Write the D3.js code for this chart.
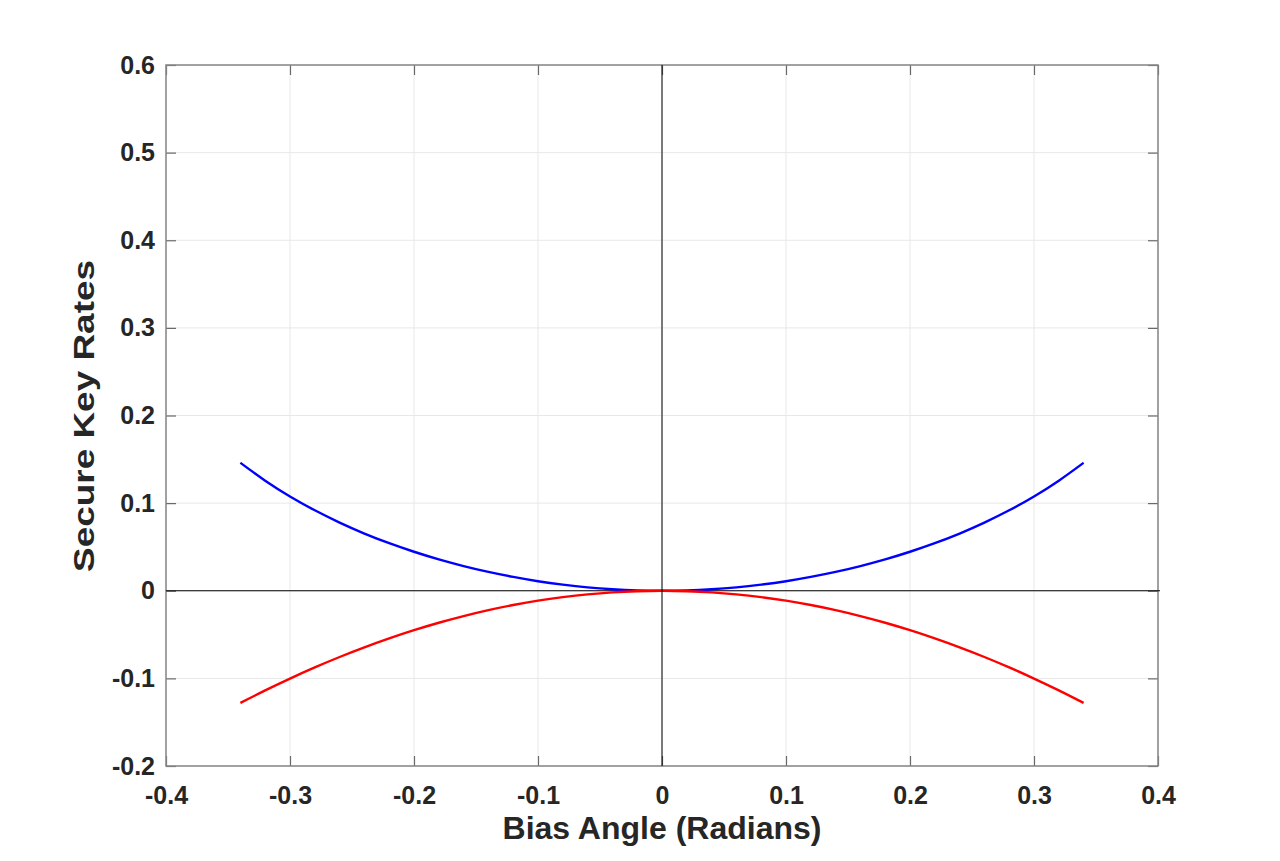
<!DOCTYPE html>
<html lang="en">
<head>
    <meta charset="UTF-8">
    <title>secure key rates</title>
    <script type="text/javascript" src="https://d3js.org/d3.v7.min.js"></script>
    <style>
        body { margin: 0; background: #fff; }
        text { font-family: "Liberation Sans", Arial, sans-serif; font-weight: bold; fill: #262626; }
    </style>
</head>
<body>
<svg class="chart"></svg>

<script type="text/javascript">

    const width = 1280;
    const height = 861;

    // bias angle samples (radians)
    const angles = [-0.34, -0.32, -0.30, -0.28, -0.26, -0.24, -0.22, -0.20, -0.18, -0.16, -0.14, -0.12,
        -0.10, -0.08, -0.06, -0.04, -0.02, 0, 0.02, 0.04, 0.06, 0.08, 0.10, 0.12, 0.14, 0.16, 0.18,
        0.20, 0.22, 0.24, 0.26, 0.28, 0.30, 0.32, 0.34];

    // upper curve (blue)
    const rateUpper = [0.1460, 0.1256, 0.1076, 0.0918, 0.0778, 0.0653, 0.0543, 0.0445, 0.0358, 0.0282,
        0.0215, 0.0158, 0.0109, 0.0070, 0.0039, 0.0017, 0.0004, 0, 0.0004, 0.0017, 0.0039, 0.0070,
        0.0109, 0.0158, 0.0215, 0.0282, 0.0358, 0.0445, 0.0543, 0.0653, 0.0778, 0.0918, 0.1076,
        0.1256, 0.1460];

    // lower curve (red)
    const rateLower = [-0.1280, -0.1137, -0.1002, -0.0875, -0.0756, -0.0646, -0.0544, -0.0450, -0.0365,
        -0.0289, -0.0221, -0.0163, -0.0113, -0.0073, -0.0041, -0.0018, -0.0005, 0, -0.0005, -0.0018,
        -0.0041, -0.0073, -0.0113, -0.0163, -0.0221, -0.0289, -0.0365, -0.0450, -0.0544, -0.0646,
        -0.0756, -0.0875, -0.1002, -0.1137, -0.1280];

    const xTicks = [-0.4, -0.3, -0.2, -0.1, 0, 0.1, 0.2, 0.3, 0.4];
    const yTicks = [-0.2, -0.1, 0, 0.1, 0.2, 0.3, 0.4, 0.5, 0.6];

    const plot = {left: 166, right: 1158, top: 65, bottom: 766};

    let svg = d3.select(".chart")
        .attr("width", width)
        .attr("height", height);

    let scaleX = d3.scaleLinear().domain([-0.4, 0.4]).range([plot.left, plot.right]);
    let scaleY = d3.scaleLinear().domain([-0.2, 0.6]).range([plot.bottom, plot.top]);

    // matlab style labels: plain hyphen, bare zero
    let fmt = d => d === 0 ? "0" : d3.format(".1f")(d).replace("\u2212", "-");

    // grid
    let grid = svg.append("g");
    grid.selectAll("line.gx").data(xTicks).enter().append("line")
        .attr("x1", d => scaleX(d)).attr("x2", d => scaleX(d))
        .attr("y1", plot.top).attr("y2", plot.bottom)
        .attr("stroke", "#e8e8e8").attr("stroke-width", 1);
    grid.selectAll("line.gy").data(yTicks).enter().append("line")
        .attr("y1", d => scaleY(d)).attr("y2", d => scaleY(d))
        .attr("x1", plot.left).attr("x2", plot.right)
        .attr("stroke", "#e8e8e8").attr("stroke-width", 1);

    // axes, ticks pointing inward on all four sides
    function styleAxis(g) {
        g.select(".domain").remove();
        g.selectAll(".tick line").attr("stroke", "#6a6a6a").attr("stroke-width", 1.2);
    }

    svg.append("g").attr("transform", `translate(0,${plot.bottom})`)
        .call(d3.axisBottom(scaleX).tickValues(xTicks).tickFormat(fmt).tickSizeInner(-10).tickPadding(20))
        .call(styleAxis)
        .selectAll("text").style("font-size", "25px").attr("fill", "#262626");
    svg.append("g").attr("transform", `translate(0,${plot.top})`)
        .call(d3.axisTop(scaleX).tickValues(xTicks).tickFormat("").tickSizeInner(-10))
        .call(styleAxis);
    svg.append("g").attr("transform", `translate(${plot.left},0)`)
        .call(d3.axisLeft(scaleY).tickValues(yTicks).tickFormat(fmt).tickSizeInner(-10).tickPadding(11))
        .call(styleAxis)
        .selectAll("text").style("font-size", "25px").attr("fill", "#262626");
    svg.append("g").attr("transform", `translate(${plot.right},0)`)
        .call(d3.axisRight(scaleY).tickValues(yTicks).tickFormat("").tickSizeInner(-10))
        .call(styleAxis);

    // box
    svg.append("rect")
        .attr("x", plot.left).attr("y", plot.top)
        .attr("width", plot.right - plot.left).attr("height", plot.bottom - plot.top)
        .attr("fill", "none").attr("stroke", "#868686").attr("stroke-width", 1.5);

    // zero reference lines
    svg.append("line")
        .attr("x1", plot.left).attr("x2", plot.right + 2)
        .attr("y1", scaleY(0)).attr("y2", scaleY(0))
        .attr("stroke", "#000").attr("stroke-width", 1);

    let line = d3.line()
        .x((d, i) => scaleX(angles[i]))
        .y(d => scaleY(d))
        .curve(d3.curveNatural);

    svg.append("path").datum(rateUpper)
        .attr("d", line).attr("fill", "none")
        .attr("stroke", "#0000ff").attr("stroke-width", 2.4);
    svg.append("path").datum(rateLower)
        .attr("d", line).attr("fill", "none")
        .attr("stroke", "#ff0000").attr("stroke-width", 2.4);

    svg.append("line")
        .attr("x1", scaleX(0)).attr("x2", scaleX(0))
        .attr("y1", plot.top).attr("y2", plot.bottom)
        .attr("stroke", "#000").attr("stroke-width", 1);

    // axis titles
    svg.append("text")
        .attr("x", 662).attr("y", 839)
        .attr("text-anchor", "middle")
        .style("font-size", "32px")
        .text("Bias Angle (Radians)");

    svg.append("text")
        .attr("transform", "translate(94,416) rotate(-90)")
        .attr("text-anchor", "middle")
        .attr("textLength", 312)
        .attr("lengthAdjust", "spacingAndGlyphs")
        .style("font-size", "29px")
        .text("Secure Key Rates");

</script>
</body>
</html>
